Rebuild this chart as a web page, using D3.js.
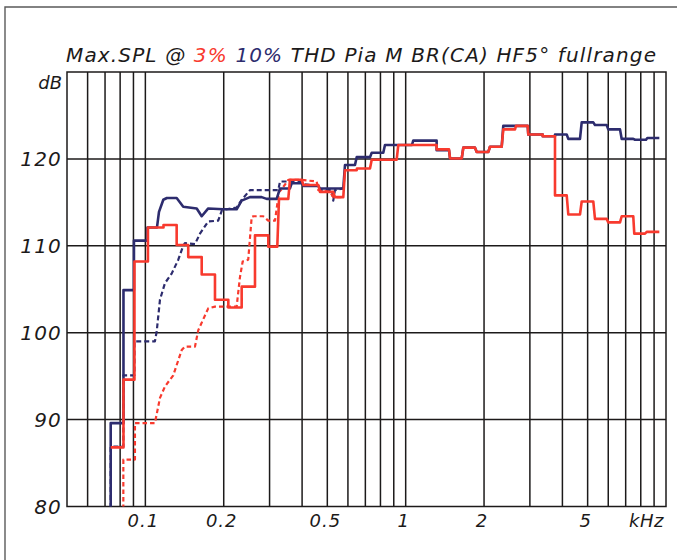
<!DOCTYPE html>
<html>
<head>
<meta charset="utf-8">
<script src="https://cdn.jsdelivr.net/npm/d3@7"></script>
<style>
  html, body { margin: 0; padding: 0; background: #fff; }
  svg { display: block; }
  text { font-family: "DejaVu Sans", sans-serif; font-style: italic; fill: #1c1a1a; }
</style>
</head>
<body>
<svg id="chart" width="677" height="560"></svg>
<script>
// Axis ranges (frequency in kHz, level in dB SPL)
const freqDomain = [0.05, 10];
const levelDomain = [80, 130];
const xTickLabels = [0.1, 0.2, 0.5, 1, 2, 5];
const yTickLabels = [80, 90, 100, 110, 120];

// Max. SPL @ 10% THD, measured step curve [kHz, dB]
const blueSolid = [
  [0.0736, 78], [0.0736, 89.6], [0.0824, 89.6], [0.0824, 104.9], [0.0904, 104.9],
  [0.0904, 110.6], [0.1019, 110.6], [0.1019, 112.1], [0.1108, 112.1], [0.1128, 113.9],
  [0.1172, 115.3], [0.121, 115.5], [0.1319, 115.5], [0.1398, 114.5], [0.1575, 114.3],
  [0.1646, 113.4], [0.1744, 114.3], [0.1992, 114.2], [0.2242, 114.2], [0.2344, 115.2],
  [0.2522, 115.6], [0.2797, 115.6], [0.2924, 115.4], [0.3195, 115.4], [0.329, 116.6],
  [0.3593, 116.6], [0.3648, 117.2], [0.3986, 117.2], [0.4044, 116.9], [0.4617, 116.9],
  [0.4686, 116.6], [0.5759, 116.6], [0.5846, 119.3], [0.6386, 119.3], [0.6483, 120.2],
  [0.7293, 120.2], [0.7405, 120.7], [0.8202, 120.7], [0.8326, 121.6], [1.057, 121.6],
  [1.069, 122.1], [1.315, 122.1], [1.315, 121.0], [1.467, 121.0], [1.48, 120.05],
  [1.641, 120.05], [1.665, 121.3], [1.846, 121.3], [1.874, 120.8], [2.077, 120.8],
  [2.108, 121.4], [2.338, 121.4], [2.371, 123.8], [2.943, 123.8], [2.958, 122.8],
  [3.361, 122.8], [3.361, 122.6], [3.746, 122.6], [3.746, 122.8], [4.155, 122.8],
  [4.214, 122.3], [4.673, 122.3], [4.744, 124.2], [5.256, 124.2], [5.336, 123.9],
  [5.918, 123.9], [6.002, 123.4], [6.658, 123.4], [6.758, 122.3], [7.486, 122.3],
  [7.602, 122.2], [8.381, 122.2], [8.478, 122.4], [9.426, 122.4]
];

// Max. SPL @ 10% THD, second run (low/mid range)
const blueDashed = [
  [0.0736, 78], [0.0736, 86.9], [0.0823, 86.9], [0.0823, 95.1], [0.0908, 95.1],
  [0.0908, 99.0], [0.1088, 99.0], [0.1105, 100.1], [0.1138, 103.8], [0.1189, 105.7],
  [0.1262, 106.8], [0.1338, 108.4], [0.1398, 110.0], [0.1419, 110.3], [0.1551, 110.2],
  [0.1621, 111.4], [0.1744, 112.8], [0.1905, 112.9], [0.1969, 114.1], [0.2242, 114.4],
  [0.2344, 115.3], [0.2522, 116.4], [0.3241, 116.4], [0.329, 117.4], [0.3925, 117.4],
  [0.4031, 117.1], [0.4603, 116.9], [0.4686, 116.4], [0.521, 116.4], [0.527, 115.2],
  [0.535, 116.4], [0.5743, 116.6]
];

// Max. SPL @ 3% THD, measured step curve [kHz, dB]
const redSolid = [
  [0.0736, 86.8], [0.0824, 86.8], [0.0824, 94.6], [0.0908, 94.6], [0.0908, 108.2],
  [0.1023, 108.2], [0.1023, 112.1], [0.1174, 112.1], [0.1174, 112.4], [0.1319, 112.4],
  [0.1319, 110.1], [0.1461, 110.1], [0.1461, 108.7], [0.1646, 108.7], [0.1646, 106.7],
  [0.1851, 106.7], [0.1851, 103.8], [0.2083, 103.8], [0.2083, 102.9], [0.2344, 102.9],
  [0.2344, 105.3], [0.2637, 105.3], [0.2637, 111.2], [0.2966, 111.2], [0.2966, 109.9],
  [0.3212, 109.9], [0.3261, 115.4], [0.354, 115.4], [0.3593, 117.6], [0.3986, 117.6],
  [0.4044, 117.0], [0.4617, 117.0], [0.4686, 116.2], [0.527, 116.2], [0.535, 115.6],
  [0.5759, 115.6], [0.5846, 118.7], [0.6483, 118.7], [0.6499, 118.9], [0.7293, 118.9],
  [0.7405, 119.9], [0.9233, 119.9], [0.9367, 121.6], [1.315, 121.6], [1.315, 121.1],
  [1.467, 121.1], [1.48, 120.05], [1.641, 120.05], [1.665, 121.3], [1.846, 121.3],
  [1.874, 120.8], [2.077, 120.8], [2.108, 121.4], [2.338, 121.4], [2.371, 123.4],
  [2.63, 123.4], [2.653, 123.8], [2.943, 123.8], [2.958, 122.8], [3.361, 122.8],
  [3.361, 122.6], [3.746, 122.6], [3.746, 115.8], [4.155, 115.8], [4.214, 113.6],
  [4.673, 113.6], [4.744, 115.1], [5.256, 115.1], [5.336, 113.1], [5.918, 113.1],
  [6.002, 112.7], [6.658, 112.7], [6.758, 113.4], [7.486, 113.4], [7.553, 111.4],
  [8.306, 111.4], [8.434, 111.6], [9.426, 111.6]
];

// Max. SPL @ 3% THD, second run (low/mid range)
const redDashed = [
  [0.0823, 78], [0.0823, 85.4], [0.0912, 85.4], [0.0912, 89.6], [0.1088, 89.6],
  [0.1138, 92.5], [0.1189, 93.8], [0.128, 95.1], [0.1379, 98.0], [0.1419, 98.4],
  [0.1551, 98.4], [0.1597, 100.3], [0.1744, 102.8], [0.1851, 103.0], [0.2242, 103.0],
  [0.2309, 106.4], [0.2365, 108.2], [0.2484, 108.4], [0.2561, 113.3], [0.26, 113.4],
  [0.2837, 113.4], [0.2966, 112.9], [0.3148, 112.9], [0.3261, 116.2], [0.334, 116.5],
  [0.354, 117.6], [0.3925, 117.6], [0.455, 117.4], [0.4617, 116.4], [0.5118, 116.2],
  [0.527, 115.6], [0.5759, 115.6]
];

const RED = "#f83a2e";
const NAVY = "#2d2c6e";
const INK = "#1c1a1a";

const svg = d3.select("#chart");
const plot = { left: 67, right: 666, top: 72, bottom: 506.5 };

const x = d3.scaleLog().domain(freqDomain).range([plot.left, plot.right]);
const y = d3.scaleLinear().domain(levelDomain).range([plot.bottom, plot.top]);

// outer sheet border (open to the right and bottom)
svg.append("path")
  .attr("d", `M5,560 L5,7 L677,7`)
  .attr("fill", "none").attr("stroke", "#5a5a5a").attr("stroke-width", 1.4);

// vertical grid: every 1-2-...-9 step per decade
const gridFreqs = [];
[0.01, 0.1, 1].forEach(d => { for (let k = 1; k <= 9; k++) gridFreqs.push(+(d * k).toFixed(3)); });
const vGrid = gridFreqs.filter(f => f > freqDomain[0] && f < freqDomain[1]);

const grid = svg.append("g").attr("stroke", INK).attr("stroke-width", 1.5);
grid.selectAll("line.v").data(vGrid).join("line")
  .attr("class", "v")
  .attr("x1", d => x(d)).attr("x2", d => x(d))
  .attr("y1", plot.top).attr("y2", plot.bottom);
grid.selectAll("line.h").data(yTickLabels.filter(v => v > levelDomain[0])).join("line")
  .attr("class", "h")
  .attr("x1", plot.left).attr("x2", plot.right)
  .attr("y1", d => y(d)).attr("y2", d => y(d));
grid.append("rect")
  .attr("x", plot.left).attr("y", plot.top)
  .attr("width", plot.right - plot.left).attr("height", plot.bottom - plot.top)
  .attr("fill", "none");

// curves
svg.append("clipPath").attr("id", "plotClip")
  .append("rect").attr("x", plot.left).attr("y", plot.top)
  .attr("width", plot.right - plot.left).attr("height", plot.bottom - plot.top);

const line = d3.line().x(d => x(d[0])).y(d => y(d[1]));
const curves = svg.append("g").attr("clip-path", "url(#plotClip)")
  .attr("fill", "none").attr("stroke-linejoin", "round");

const series = [
  { data: blueDashed, color: NAVY, width: 2.2, dash: "5,3" },
  { data: redDashed, color: RED, width: 2.2, dash: "4.5,3" },
  { data: blueSolid, color: NAVY, width: 2.6, dash: null },
  { data: redSolid, color: RED, width: 2.6, dash: null }
];
series.forEach(s => {
  curves.append("path")
    .datum(s.data)
    .attr("d", line)
    .attr("stroke", s.color)
    .attr("stroke-width", s.width)
    .attr("stroke-dasharray", s.dash);
});

// y-axis labels
svg.append("g").selectAll("text").data(yTickLabels).join("text")
  .attr("x", 62).attr("y", d => y(d) + 7.5)
  .attr("text-anchor", "end")
  .attr("font-size", 20).attr("letter-spacing", 1.2)
  .text(d => d);
svg.append("text").attr("x", 62).attr("y", 89)
  .attr("text-anchor", "end").attr("font-size", 18).text("dB");

// x-axis labels
svg.append("g").selectAll("text").data(xTickLabels).join("text")
  .attr("x", d => x(d) - 2).attr("y", 527)
  .attr("text-anchor", "middle")
  .attr("font-size", 18).attr("letter-spacing", 1)
  .text(d => d);
svg.append("text").attr("x", 664).attr("y", 527)
  .attr("text-anchor", "end").attr("font-size", 18).attr("letter-spacing", 0.5).text("kHz");

// title with coloured series keys
const title = svg.append("text").attr("x", 66).attr("y", 62).attr("font-size", 20);
const parts = [
  ["Max.SPL @ ", INK], ["3%", RED], [" ", INK], ["10%", NAVY],
  [" THD Pia M BR(CA) HF5\u00B0 fullrange", INK]
];
parts.forEach(([t, c]) => title.append("tspan").attr("fill", c).text(t));
const fullText = parts.map(p => p[0]).join("");
const measured = title.node().getComputedTextLength();
const targetWidth = 590;
title.attr("letter-spacing", (targetWidth - measured) / (fullText.length - 1));
</script>
</body>
</html>
